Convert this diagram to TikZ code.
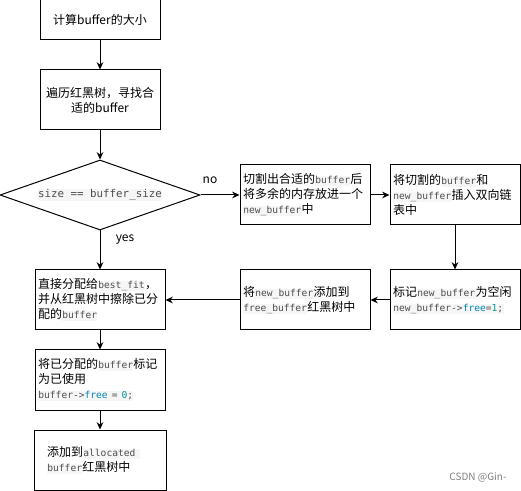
\documentclass[tikz,border=0pt]{standalone}
\usepackage{fontspec}
\usetikzlibrary{shapes.geometric,arrows.meta}
\setmainfont{Noto Sans CJK SC}
\setmonofont{DejaVu Sans Mono}
\definecolor{codebg}{HTML}{F6F6F6}
\definecolor{codefg}{HTML}{4D4D4D}
\definecolor{kwcol}{HTML}{0086B3}
\definecolor{numcol}{HTML}{009999}
\newcommand{\cd}[1]{{\setlength{\fboxsep}{0.3pt}\colorbox{codebg}{\ttfamily\fontsize{7.2}{9}\selectfont\color{codefg}\vphantom{Ag}#1}}}
\newcommand{\cdbig}[1]{{\setlength{\fboxsep}{0.5pt}\colorbox{codebg}{\ttfamily\fontsize{8.1}{10}\selectfont\color{codefg}\vphantom{Ag}#1}}}
\begin{document}
\begin{tikzpicture}[x=0.75pt,y=-0.75pt,
  every node/.style={font=\fontsize{9}{11.25}\selectfont},
  box/.style={draw,line width=0.75pt,rectangle,minimum width=97.5pt,minimum height=45pt,inner sep=2.25pt,text width=93pt},
  lbox/.style={box,align=left},
  cbox/.style={box,align=center},
  arr/.style={-{Stealth[length=5.5pt,width=5pt]},line width=0.75pt}]
\useasboundingbox (0,0) rectangle (521,491);
\node[cbox,minimum width=90pt,minimum height=30pt,text width=85pt] (b1) at (100,20) {计算buffer的大小};
\node[cbox,minimum width=90pt,text width=85pt] (b2) at (100,100) {遍历红黑树，寻找合\\适的buffer};
\node[draw,line width=0.75pt,diamond,aspect=2.857,minimum width=150pt,minimum height=52.5pt,inner sep=0pt] (dia) at (100,195) {\cdbig{size == buffer\_size}};
\node[lbox] (b3) at (305,195) {切割出合适的\cd{buffer}后\\将多余的内存放进一个\\\cd{new\_buffer}中};
\node[lbox] (b4) at (455,195) {将切割的\cd{buffer}和\\\cd{new\_buffer}插入双向链\\表中};
\node[lbox] (b5) at (455,300) {标记\cd{new\_buffer}为空闲\\\cd{new\_buffer->\textcolor{kwcol}{free}=\textcolor{numcol}{1};}};
\node[lbox] (b6) at (305,300) {将\cd{new\_buffer}添加到\\\cd{free\_buffer}红黑树中};
\node[lbox] (b7) at (100,300) {直接分配给\cd{best\_fit}，\\并从红黑树中擦除已分\\配的\cd{buffer}};
\node[lbox] (b8) at (100,380) {将已分配的\cd{buffer}标记\\为已使用\\\cd{buffer->\textcolor{kwcol}{free} = \textcolor{numcol}{0};}};
\node[lbox,inner xsep=9.75pt,text width=79.5pt] (b9) at (100,460) {添加到\cd{allocated }\\\cd{buffer}红黑树中};
\node (no) at (210,180) {no};
\node (yes) at (125,240) {yes};
\node[text=gray,font=\fontsize{7.5}{9}\selectfont] (wm) at (478,477) {CSDN @Gin-};
\draw[arr] (b1) -- (b2);
\draw[arr] (b2) -- (dia);
\draw[arr] (dia.east) -- (b3.west);
\draw[arr] (b3) -- (b4);
\draw[arr] (b4) -- (b5);
\draw[arr] (b5) -- (b6);
\draw[arr] (b6) -- (b7);
\draw[arr] (dia.south) -- (b7.north);
\draw[arr] (b7) -- (b8);
\draw[arr] (b8) -- (b9);
\end{tikzpicture}
\end{document}
